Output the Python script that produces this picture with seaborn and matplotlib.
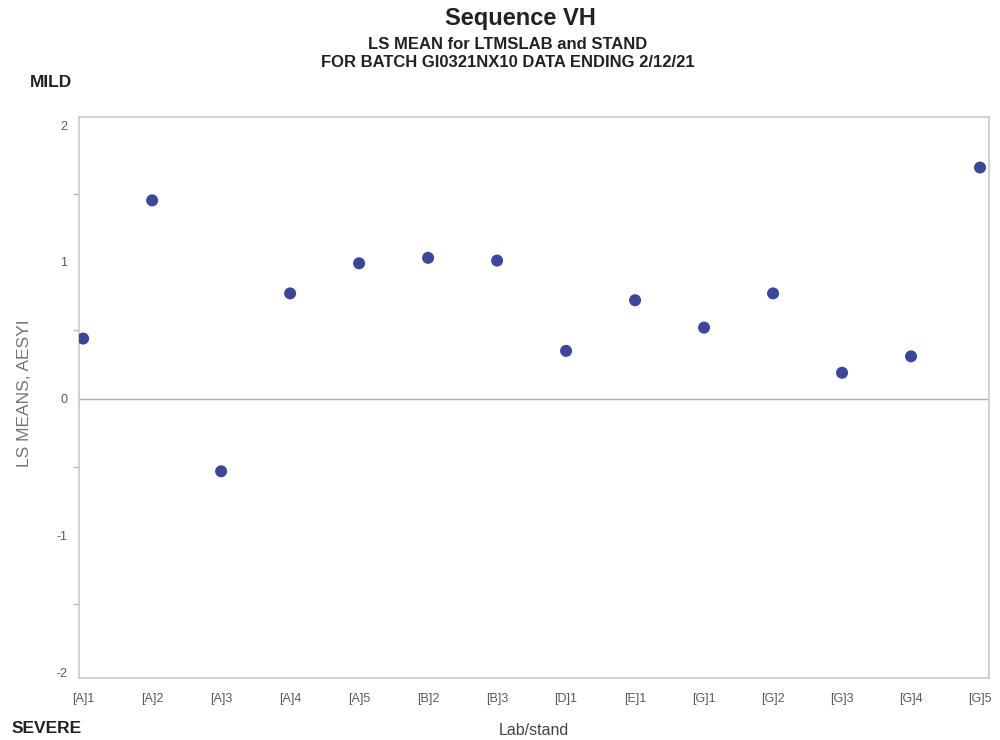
import matplotlib
matplotlib.use("Agg")
import matplotlib.pyplot as plt
import seaborn as sns
import pandas as pd
from matplotlib.ticker import MultipleLocator

# data
labs = ['[A]1', '[A]2', '[A]3', '[A]4', '[A]5', '[B]2', '[B]3',
        '[D]1', '[E]1', '[G]1', '[G]2', '[G]3', '[G]4', '[G]5']
ls_means = [0.44, 1.45, -0.53, 0.77, 0.99, 1.03, 1.01,
            0.35, 0.72, 0.52, 0.77, 0.19, 0.31, 1.69]

df = pd.DataFrame({'lab': labs, 'mean': ls_means})

sns.set_style("white")
plt.rcParams['font.family'] = ['Liberation Sans', 'DejaVu Sans']

fig = plt.figure(figsize=(10, 7.4), dpi=100)
ax = fig.add_axes([0.079, 0.084, 0.910, 0.758])

sns.scatterplot(data=df, x='lab', y='mean', ax=ax, color='#3b4799',
                s=75, edgecolor='none', zorder=3)

# reference line at zero
ax.axhline(0, color='#b0b0b0', lw=1, zorder=1)

ax.set_xlim(-0.06, 13.13)
ax.set_ylim(-2.04, 2.06)
ax.yaxis.set_major_locator(MultipleLocator(1))
ax.yaxis.set_minor_locator(MultipleLocator(0.5))

for sp in ax.spines.values():
    sp.set_color('#c8c8c8')
    sp.set_linewidth(1.2)

ax.tick_params(axis='both', which='both', direction='out', color='#b8b8b8',
               labelcolor='#5a5a5a', labelsize=9)
ax.tick_params(axis='both', which='major', length=5, width=1)
ax.tick_params(axis='y', which='minor', length=4, width=1, left=True)
ax.tick_params(axis='x', pad=6)
ax.set_yticks([-2, -1, 0, 1, 2])
ax.set_yticklabels(['-2', '-1', '0', '1', '2'])

ax.set_xlabel('')
ax.set_ylabel('LS MEANS, AESYI', color='#767676', fontsize=12.5)
ax.yaxis.set_label_coords(-0.052, 0.508)

fig.text(0.52, 0.975, 'Sequence VH', ha='center', va='center',
         fontsize=17, fontweight='bold', color='#222222')
fig.text(0.508, 0.940, 'LS MEAN for LTMSLAB and STAND', ha='center',
         va='center', fontsize=12, fontweight='bold', color='#222222')
fig.text(0.508, 0.916, 'FOR BATCH GI0321NX10 DATA ENDING 2/12/21',
         ha='center', va='center', fontsize=12, fontweight='bold',
         color='#222222')
fig.text(0.030, 0.889, 'MILD', ha='left', va='center', fontsize=12.5,
         fontweight='bold', color='#222222')
fig.text(0.012, 0.015, 'SEVERE', ha='left', va='center', fontsize=12.5,
         fontweight='bold', color='#222222')
fig.text(0.534, 0.013, 'Lab/stand', ha='center', va='center', fontsize=11.5,
         color='#444444')

fig.savefig('out.png', dpi=100)
